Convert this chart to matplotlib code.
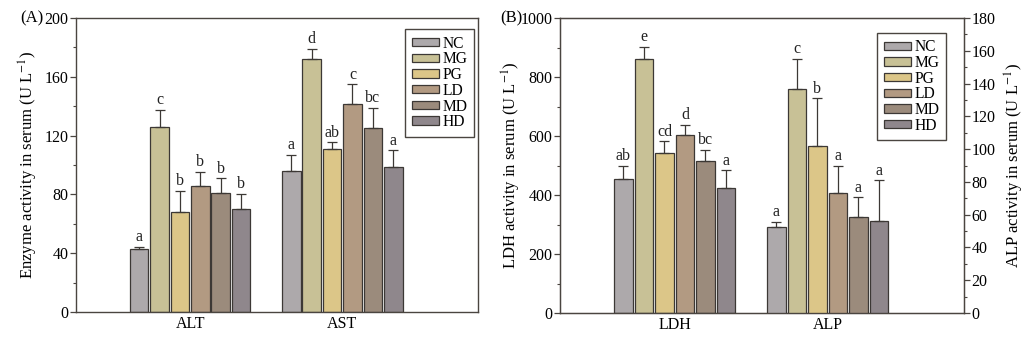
import matplotlib
matplotlib.use("Agg")
import matplotlib.pyplot as plt
import numpy as np
from matplotlib.ticker import MultipleLocator

plt.rcParams['font.family'] = ['Liberation Serif', 'DejaVu Serif']
plt.rcParams['mathtext.fontset'] = 'stix'

groups = ['NC', 'MG', 'PG', 'LD', 'MD', 'HD']
colors = ['#ADA9AB', '#C8C196', '#DCC688', '#B29A82', '#9B8B7C', '#8F878C']
EDGE = '#3c3835'
SPINE = '#4a4540'

# panel A
alt_mean = [43, 125.9, 68.3, 85.7, 81.0, 69.8]
alt_err = [1.5, 11.5, 14, 9.5, 10, 10.5]
alt_let = ['a', 'c', 'b', 'b', 'b', 'b']
ast_mean = [95.9, 172.1, 110.7, 141.5, 125.4, 98.9]
ast_err = [11, 7, 4.7, 13.4, 13.4, 11]
ast_let = ['a', 'd', 'ab', 'c', 'bc', 'a']

# panel B
ldh_mean = [456, 860, 541, 605, 517, 425]
ldh_err = [43, 43, 41, 33, 37, 59]
ldh_let = ['ab', 'e', 'cd', 'd', 'bc', 'a']
alp_mean = [52.7, 136.9, 102.2, 73.1, 58.4, 55.9]
alp_err = [3, 18, 28.8, 16.5, 12.2, 25]
alp_let = ['a', 'c', 'b', 'a', 'a', 'a']

step = 0.134
width = 0.122
offsets = (np.arange(6) - 2.5) * step
FS = 11.5
LFS = 12

fig = plt.figure(figsize=(10.25, 3.41), dpi=100)
axA = fig.add_axes([0.0741, 0.085, 0.392, 0.862])
axB = fig.add_axes([0.5463, 0.082, 0.394, 0.865])


def draw_group(ax, center, means, errs, letters, ymax):
    for i in range(6):
        x = center + offsets[i]
        ax.bar(x, means[i], width, color=colors[i], edgecolor=EDGE, linewidth=0.9,
               label=groups[i] if center == 0 else None, zorder=2)
        ax.errorbar(x, means[i], yerr=[[0], [errs[i]]], fmt='none', ecolor=EDGE,
                    elinewidth=0.9, capsize=3.5, capthick=0.9, zorder=3)
        ax.text(x, means[i] + errs[i] + ymax * 0.006, letters[i], ha='center',
                va='bottom', fontsize=11.5, color='#222222')


def style(ax, ymax, major, minor):
    ax.set_xlim(-0.75, 1.89)
    ax.set_ylim(0, ymax)
    ax.yaxis.set_major_locator(MultipleLocator(major))
    ax.yaxis.set_minor_locator(MultipleLocator(minor))
    ax.tick_params(axis='y', direction='out', length=4, width=0.9, color=SPINE,
                   labelsize=FS, pad=1.5)
    ax.tick_params(axis='y', which='minor', direction='out', length=2.5, width=0.8, color=SPINE)
    ax.tick_params(axis='x', length=0, labelsize=FS, pad=3)
    ax.set_xticks([0, 1])
    for s in ax.spines.values():
        s.set_color(SPINE)
        s.set_linewidth(1.0)


def legend(ax, anchor):
    ax.legend(loc='upper right', bbox_to_anchor=anchor, fontsize=11.2, frameon=True,
              fancybox=False, edgecolor=SPINE, handlelength=1.75, handleheight=0.45,
              handletextpad=0.2, labelspacing=-0.02, borderpad=0.42, borderaxespad=0.0,
              framealpha=1)


draw_group(axA, 0, alt_mean, alt_err, alt_let, 200)
draw_group(axA, 1, ast_mean, ast_err, ast_let, 200)
style(axA, 200, 40, 20)
axA.set_xticklabels(['ALT', 'AST'])
axA.set_ylabel(r'Enzyme activity in serum (U L$^{-1}$)', fontsize=LFS)
axA.yaxis.set_label_coords(-0.09, 0.5)
legend(axA, (0.99, 0.962))
fig.text(0.020, 0.945, '(A)', fontsize=12, va='center', ha='left')

draw_group(axB, 0, ldh_mean, ldh_err, ldh_let, 1000)
style(axB, 1000, 200, 100)
axB.set_xticklabels(['LDH', 'ALP'])
axB.set_ylabel(r'LDH activity in serum (U L$^{-1}$)', fontsize=LFS)
axB.yaxis.set_label_coords(-0.092, 0.5)

axB2 = axB.twinx()
draw_group(axB2, 1, alp_mean, alp_err, alp_let, 180)
axB2.set_xlim(-0.75, 1.89)
axB2.set_ylim(0, 180)
axB2.yaxis.set_major_locator(MultipleLocator(20))
axB2.yaxis.set_minor_locator(MultipleLocator(10))
axB2.tick_params(axis='y', direction='out', length=4, width=0.9, color=SPINE, labelsize=FS, pad=1.5)
axB2.tick_params(axis='y', which='minor', direction='out', length=2.5, width=0.8, color=SPINE)
for s in axB2.spines.values():
    s.set_color(SPINE)
axB2.set_ylabel(r'ALP activity in serum (U L$^{-1}$)', fontsize=LFS)
axB2.yaxis.set_label_coords(1.097, 0.5)
legend(axB, (0.955, 0.95))
fig.text(0.488, 0.945, '(B)', fontsize=12, va='center', ha='left')

fig.savefig('out.png', dpi=100, facecolor='white')
